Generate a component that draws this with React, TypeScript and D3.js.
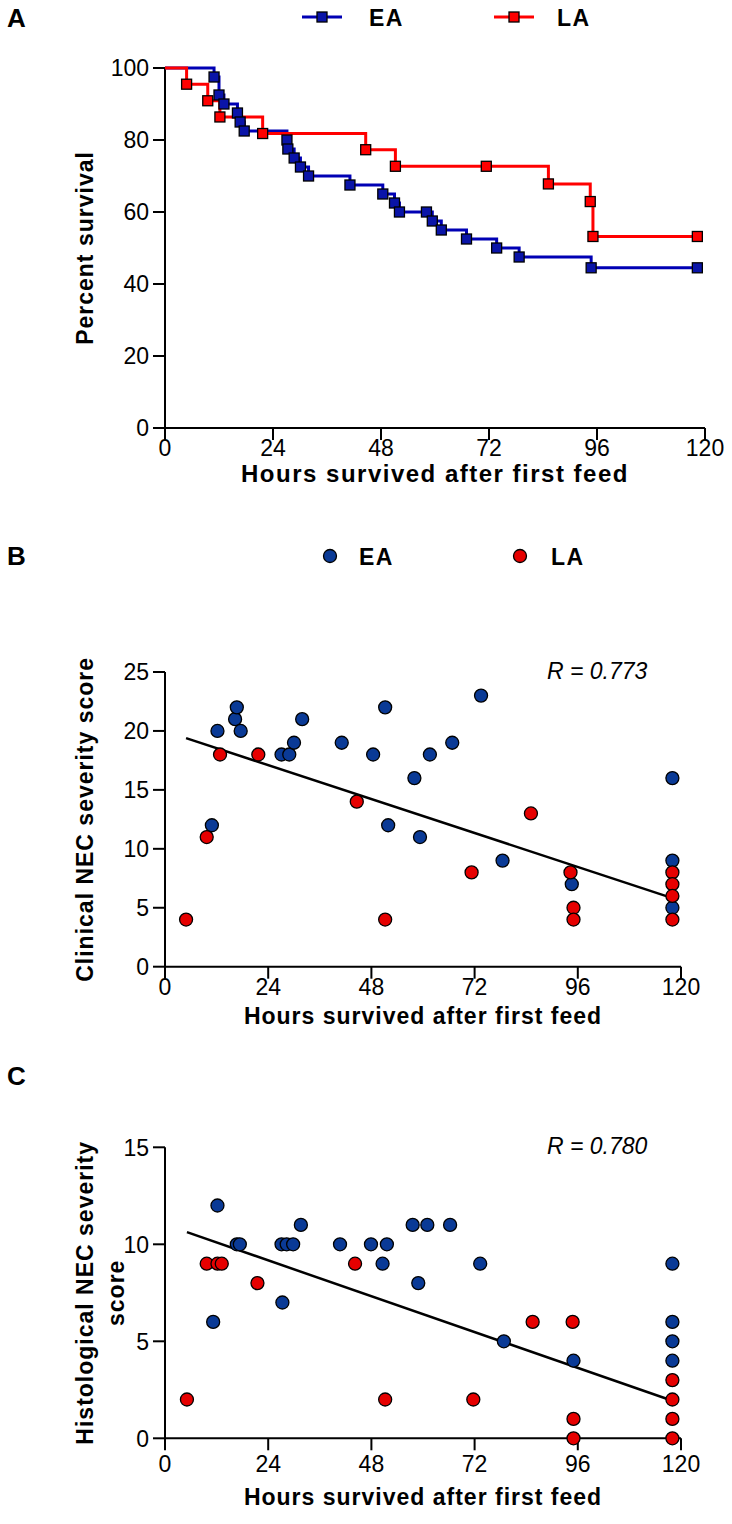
import React from "react";
import * as d3 from "d3";

// ---------- Data ----------
// Panel A: Kaplan-Meier survival (time in hours, percent surviving)
const EA_SURV_TIME = [0, 10.9, 12.0, 13.1, 16.1, 16.7, 17.6, 27.1, 27.3, 28.7, 30.1, 31.9, 41.1, 48.4, 51.0, 52.1, 58.1, 59.4, 61.4, 67.0, 73.7, 78.7, 94.7, 118.3];
const EA_SURV_PCT = [100, 97.5, 92.5, 90, 87.5, 85, 82.5, 80, 77.5, 75, 72.5, 70, 67.5, 65, 62.5, 60, 60, 57.5, 55, 52.5, 50, 47.5, 44.5, 44.5];
const LA_SURV_TIME = [0, 4.8, 9.5, 12.2, 21.7, 44.6, 51.2, 71.4, 85.2, 94.5, 95.1, 118.3];
const LA_SURV_PCT = [100, 95.5, 90.9, 86.4, 81.8, 77.3, 72.7, 72.7, 67.8, 62.9, 53.2, 53.2];

// Panel B: clinical NEC severity score
const B_EA_HOURS = [10.9, 12.2, 16.3, 16.7, 17.6, 27.1, 28.9, 30.0, 31.9, 41.1, 48.4, 51.2, 51.9, 58.0, 59.3, 61.6, 66.8, 73.5, 78.5, 94.6, 118, 118, 118];
const B_EA_SCORE = [12, 20, 21, 22, 20, 18, 18, 19, 21, 19, 18, 22, 12, 16, 11, 18, 19, 23, 9, 7, 16, 9, 5];
const B_LA_HOURS = [4.9, 9.7, 12.8, 21.7, 44.6, 51.2, 71.3, 85.1, 94.3, 95.0, 95.0, 118, 118, 118, 118];
const B_LA_SCORE = [4, 11, 18, 18, 14, 4, 8, 13, 8, 5, 4, 8, 7, 6, 4];
const B_FIT = [19.98, -0.12]; // intercept, slope
const B_R_LABEL = "R = 0.773";

// Panel C: histological NEC severity score
const C_EA_HOURS = [12.2, 16.7, 17.4, 27.1, 28.3, 29.8, 31.6, 40.7, 47.9, 51.6, 57.6, 61.0, 66.3, 50.6, 73.3, 58.9, 27.3, 11.2, 78.8, 95.0, 118, 118, 118, 118];
const C_EA_SCORE = [12, 10, 10, 10, 10, 10, 11, 10, 10, 10, 11, 11, 11, 9, 9, 8, 7, 6, 5, 4, 9, 6, 5, 4];
const C_LA_HOURS = [5.1, 9.7, 12.2, 13.2, 21.5, 44.2, 51.2, 71.7, 85.5, 94.8, 95.0, 95.0, 118, 118, 118, 118];
const C_LA_SCORE = [2, 9, 9, 9, 8, 9, 2, 2, 6, 6, 1, 0, 3, 2, 1, 0];
const C_FIT = [11.02, -0.077];
const C_R_LABEL = "R = 0.780";

const X_TICKS = [0, 24, 48, 72, 96, 120];
const A_Y_TICKS = [0, 20, 40, 60, 80, 100];
const B_Y_TICKS = [0, 5, 10, 15, 20, 25];
const C_Y_TICKS = [0, 5, 10, 15];
const GROUPS = ["EA", "LA"];
const X_TITLE = "Hours survived after first feed";

// ---------- Styles ----------
const FONT = "'Liberation Sans', Arial, Helvetica, sans-serif";
const BLUE_LINE = "#0000b4";
const BLUE_SQ = "#0a14a8";
const BLUE_DOT = "#0a3a96";
const RED = "#ff0000";
const RED_DOT = "#e60000";

type AxisProps = {
  x: d3.ScaleLinear<number, number>;
  y: d3.ScaleLinear<number, number>;
  yTicks: number[];
  labelOff: number;
  titleOff: number;
  titleSize: number;
  titleSpacing: number;
};

function Axes({ x, y, yTicks, labelOff, titleOff, titleSize, titleSpacing }: AxisProps) {
  const [x0, x1] = x.range();
  const [yb, yt] = y.range();
  const tl = 12;
  return (
    <g fontFamily={FONT} fill="#000">
      <line x1={x0} x2={x0} y1={yb} y2={yt} stroke="#000" strokeWidth={2} />
      <line x1={x0} x2={x1} y1={yb} y2={yb} stroke="#000" strokeWidth={2} />
      {yTicks.map((t) => (
        <g key={"y" + t}>
          <line x1={x0 - tl} x2={x0} y1={y(t)} y2={y(t)} stroke="#000" strokeWidth={2} />
          <text x={x0 - 16} y={y(t)} dy="0.36em" textAnchor="end" fontSize={23}>
            {t}
          </text>
        </g>
      ))}
      {X_TICKS.map((t) => (
        <g key={"x" + t}>
          <line x1={x(t)} x2={x(t)} y1={yb} y2={yb + tl} stroke="#000" strokeWidth={2} />
          <text x={x(t)} y={yb + labelOff} textAnchor="middle" fontSize={23}>
            {t}
          </text>
        </g>
      ))}
      <text
        x={(x0 + x1) / 2}
        y={yb + titleOff}
        textAnchor="middle"
        fontSize={titleSize}
        fontWeight="bold"
        letterSpacing={titleSpacing}
      >
        {X_TITLE}
      </text>
    </g>
  );
}

function YTitle({ lines, cy }: { lines: [string, number][]; cy: number }) {
  return (
    <g fontFamily={FONT} fontWeight="bold" fontSize={23} letterSpacing={1}>
      {lines.map(([s, bx]) => (
        <text key={s} transform={`translate(${bx},${cy}) rotate(-90)`} textAnchor="middle">
          {s}
        </text>
      ))}
    </g>
  );
}

function Scatter({
  x,
  y,
  ea,
  la,
  fit,
  rLabel,
}: {
  x: d3.ScaleLinear<number, number>;
  y: d3.ScaleLinear<number, number>;
  ea: [number[], number[]];
  la: [number[], number[]];
  fit: number[];
  rLabel: string;
}) {
  const allX = [...ea[0], ...la[0]];
  const xmin = d3.min(allX) as number;
  const xmax = d3.max(allX) as number;
  const f = (h: number) => fit[0] + fit[1] * h;
  return (
    <g>
      <line x1={x(xmin)} y1={y(f(xmin))} x2={x(xmax)} y2={y(f(xmax))} stroke="#000" strokeWidth={2.5} />
      {ea[0].map((h, i) => (
        <circle key={"e" + i} cx={x(h)} cy={y(ea[1][i])} r={6.5} fill={BLUE_DOT} stroke="#000" strokeWidth={1.3} />
      ))}
      {la[0].map((h, i) => (
        <circle key={"l" + i} cx={x(h)} cy={y(la[1][i])} r={6.5} fill={RED_DOT} stroke="#000" strokeWidth={1.3} />
      ))}
      <text x={547} y={y.range()[1] + 7} fontFamily={FONT} fontStyle="italic" fontSize={23}>
        {rLabel}
      </text>
    </g>
  );
}

export default function App() {
  // Panel A scales
  const xA = d3.scaleLinear().domain([0, 120]).range([165, 705]);
  const yA = d3.scaleLinear().domain([0, 100]).range([428, 68]);
  // Panel B
  const xB = d3.scaleLinear().domain([0, 120]).range([165, 681]);
  const yB = d3.scaleLinear().domain([0, 25]).range([966.7, 672]);
  // Panel C
  const xC = d3.scaleLinear().domain([0, 120]).range([165, 681]);
  const yC = d3.scaleLinear().domain([0, 15]).range([1438.3, 1147.3]);

  const step = d3
    .line<[number, number]>()
    .x((d) => xA(d[0]))
    .y((d) => yA(d[1]))
    .curve(d3.curveStepAfter);

  const eaPts: [number, number][] = EA_SURV_TIME.map((t, i) => [t, EA_SURV_PCT[i]]);
  const laPts: [number, number][] = LA_SURV_TIME.map((t, i) => [t, LA_SURV_PCT[i]]);
  const sq = 10;

  const legendA = [
    { name: GROUPS[0], lx: 302, color: BLUE_LINE, fill: BLUE_SQ, tx: 369 },
    { name: GROUPS[1], lx: 494, color: RED, fill: RED, tx: 557 },
  ];
  const legendB = [
    { name: GROUPS[0], cx: 330, fill: BLUE_DOT, tx: 359 },
    { name: GROUPS[1], cx: 520, fill: RED_DOT, tx: 551 },
  ];

  return (
    <svg
      width={732}
      height={1524}
      style={{ position: "absolute", left: 0, top: 0, background: "#fff" }}
    >
      <rect width={732} height={1524} fill="#fff" />
      {/* Panel letters */}
      <g fontFamily={FONT} fontWeight="bold" fontSize={26}>
        <text x={7} y={27}>A</text>
        <text x={7} y={565}>B</text>
        <text x={7} y={1085}>C</text>
      </g>

      {/* Legend A */}
      {legendA.map((l) => (
        <g key={l.name}>
          <line x1={l.lx} x2={l.lx + 40} y1={17} y2={17} stroke={l.color} strokeWidth={3} />
          <rect x={l.lx + 20 - sq / 2} y={17 - sq / 2} width={sq} height={sq} fill={l.fill} stroke="#000" strokeWidth={1.3} />
          <text x={l.tx} y={26} fontFamily={FONT} fontWeight="bold" fontSize={23} letterSpacing={1.5}>
            {l.name}
          </text>
        </g>
      ))}

      {/* Panel A */}
      <Axes x={xA} y={yA} yTicks={A_Y_TICKS} labelOff={28} titleOff={54} titleSize={24} titleSpacing={1.5} />
      <YTitle lines={[["Percent survival", 93]]} cy={(yA(0) + yA(100)) / 2} />
      <path d={step(eaPts) as string} fill="none" stroke={BLUE_LINE} strokeWidth={3} />
      <path d={step(laPts) as string} fill="none" stroke={RED} strokeWidth={3} />
      {eaPts.slice(1).map((d, i) => (
        <rect key={"ea" + i} x={xA(d[0]) - sq / 2} y={yA(d[1]) - sq / 2} width={sq} height={sq} fill={BLUE_SQ} stroke="#000" strokeWidth={1.3} />
      ))}
      {laPts.slice(1).map((d, i) => (
        <rect key={"la" + i} x={xA(d[0]) - sq / 2} y={yA(d[1]) - sq / 2} width={sq} height={sq} fill={RED} stroke="#000" strokeWidth={1.3} />
      ))}

      {/* Legend B */}
      {legendB.map((l) => (
        <g key={"b" + l.name}>
          <circle cx={l.cx} cy={556} r={6.5} fill={l.fill} stroke="#000" strokeWidth={1.3} />
          <text x={l.tx} y={565} fontFamily={FONT} fontWeight="bold" fontSize={23} letterSpacing={1.5}>
            {l.name}
          </text>
        </g>
      ))}

      {/* Panel B */}
      <Axes x={xB} y={yB} yTicks={B_Y_TICKS} labelOff={28} titleOff={57} titleSize={23} titleSpacing={1} />
      <YTitle lines={[["Clinical NEC severity score", 93]]} cy={(yB(0) + yB(25)) / 2} />
      <Scatter x={xB} y={yB} ea={[B_EA_HOURS, B_EA_SCORE]} la={[B_LA_HOURS, B_LA_SCORE]} fit={B_FIT} rLabel={B_R_LABEL} />

      {/* Panel C */}
      <Axes x={xC} y={yC} yTicks={C_Y_TICKS} labelOff={34} titleOff={67} titleSize={23} titleSpacing={1} />
      <YTitle
        lines={[
          ["Histological NEC severity", 93],
          ["score", 124],
        ]}
        cy={(yC(0) + yC(15)) / 2}
      />
      <Scatter x={xC} y={yC} ea={[C_EA_HOURS, C_EA_SCORE]} la={[C_LA_HOURS, C_LA_SCORE]} fit={C_FIT} rLabel={C_R_LABEL} />
    </svg>
  );
}
